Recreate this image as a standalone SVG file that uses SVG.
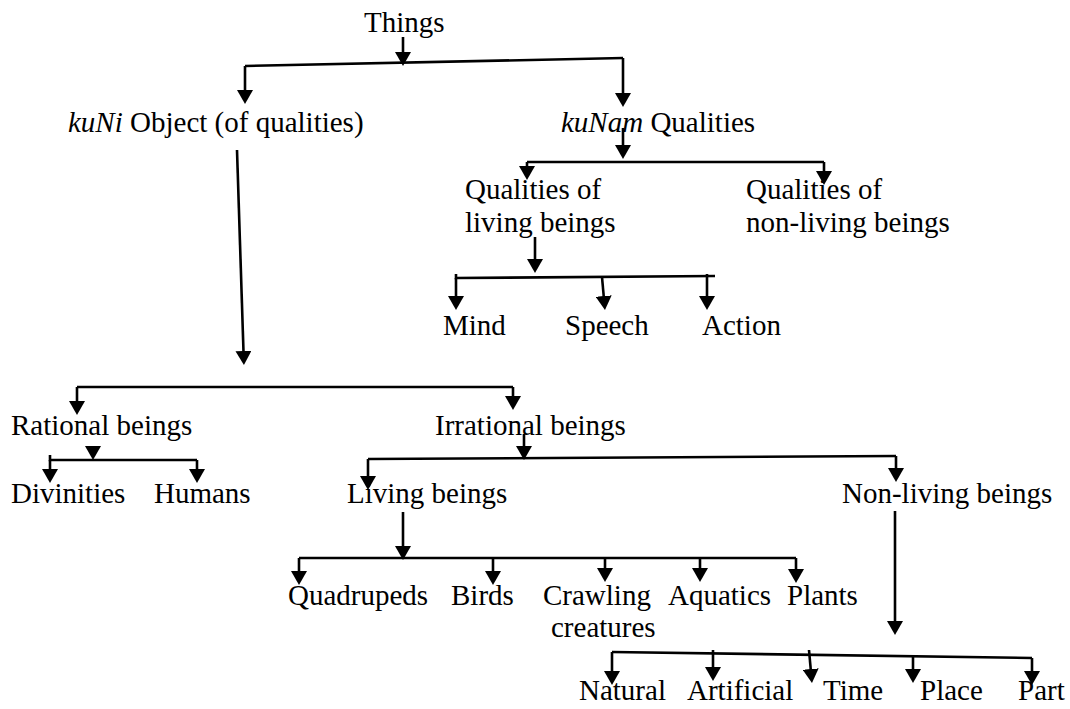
<svg xmlns="http://www.w3.org/2000/svg" width="1070" height="709" viewBox="0 0 1070 709">
<defs>
<style>
text{font-family:"Liberation Serif","Times New Roman",serif;font-size:29px;fill:#000}
.i{font-style:italic}
.c path,.c line{stroke:#000;stroke-width:2.6;fill:none}
.a{marker-end:url(#ah)}
</style>
<marker id="ah" viewBox="0 0 14 16" refX="10" refY="8" markerWidth="14" markerHeight="16" markerUnits="userSpaceOnUse" orient="auto">
<path d="M0,0 L14,8 L0,16 z" fill="#000"/>
</marker>
</defs>
<rect width="1070" height="709" fill="#fff"/>
<g class="c" id="connectors">
<path class="a" d="M403,37 V62"/>
<path d="M245,66 L623,58"/>
<path class="a" d="M245,66 V100"/>
<path class="a" d="M623,58 V103"/>
<path class="a" d="M237,150 L243.8,361"/>
<path d="M77,387 H513"/>
<path class="a" d="M77,387 V411"/>
<path class="a" d="M513,387 V406"/>
<path class="a" d="M623,128 V155"/>
<path d="M527,162 H824"/>
<path class="a" d="M527,162 V176"/>
<path class="a" d="M824,162 V181"/>
<path class="a" d="M535,237 V269"/>
<path d="M456,274 V278 L715,276"/>
<path class="a" d="M456,278 V306"/>
<path class="a" d="M602,277 L604.6,306"/>
<path class="a" d="M707,274 V306"/>
<path class="a" d="M93,448 V456"/>
<path d="M50,455 V460 H197"/>
<path class="a" d="M50,460 V479"/>
<path class="a" d="M197,460 V479"/>
<path class="a" d="M524,434 V456"/>
<path d="M368,459 L896,456"/>
<path class="a" d="M368,459 V486"/>
<path class="a" d="M896,456 V478"/>
<path class="a" d="M403,512 V556"/>
<path d="M299,558 H796"/>
<path class="a" d="M299,558 V581"/>
<path class="a" d="M493,558 V581"/>
<path class="a" d="M605,558 V578"/>
<path class="a" d="M700,558 V578"/>
<path class="a" d="M796,558 V579"/>
<path class="a" d="M895,511 V631"/>
<path d="M612,652 L1032,658"/>
<path class="a" d="M612,652 V681"/>
<path class="a" d="M713,650 V677"/>
<path class="a" d="M809,650 L811.6,679"/>
<path class="a" d="M913,657 V679"/>
<path class="a" d="M1032,658 V681"/>
</g>
<g id="things"><text x="364" y="32">Things</text></g>
<g id="kuni"><text x="68" y="132"><tspan class="i">kuNi</tspan> Object (of qualities)</text></g>
<g id="kunam"><text x="561" y="132"><tspan class="i">kuNam</tspan> Qualities</text></g>
<g id="q-living"><text x="465" y="199">Qualities of</text><text x="465" y="232">living beings</text></g>
<g id="q-nonliving"><text x="746" y="199">Qualities of</text><text x="746" y="232">non-living beings</text></g>
<g id="mind"><text x="443" y="335">Mind</text></g>
<g id="speech"><text x="565" y="335">Speech</text></g>
<g id="action"><text x="702" y="335">Action</text></g>
<g id="rational"><text x="11" y="435">Rational beings</text></g>
<g id="irrational"><text x="435" y="435">Irrational beings</text></g>
<g id="divinities"><text x="11" y="503">Divinities</text></g>
<g id="humans"><text x="154" y="503">Humans</text></g>
<g id="living"><text x="347" y="503">Living beings</text></g>
<g id="nonliving"><text x="842" y="503">Non-living beings</text></g>
<g id="quadrupeds"><text x="288" y="605">Quadrupeds</text></g>
<g id="birds"><text x="451" y="605">Birds</text></g>
<g id="crawling"><text x="543" y="605">Crawling</text><text x="551" y="637">creatures</text></g>
<g id="aquatics"><text x="668" y="605">Aquatics</text></g>
<g id="plants"><text x="787" y="605">Plants</text></g>
<g id="natural"><text x="579" y="700">Natural</text></g>
<g id="artificial"><text x="687" y="700">Artificial</text></g>
<g id="time"><text x="823" y="700">Time</text></g>
<g id="place"><text x="920" y="700">Place</text></g>
<g id="part"><text x="1018" y="700">Part</text></g>
</svg>
